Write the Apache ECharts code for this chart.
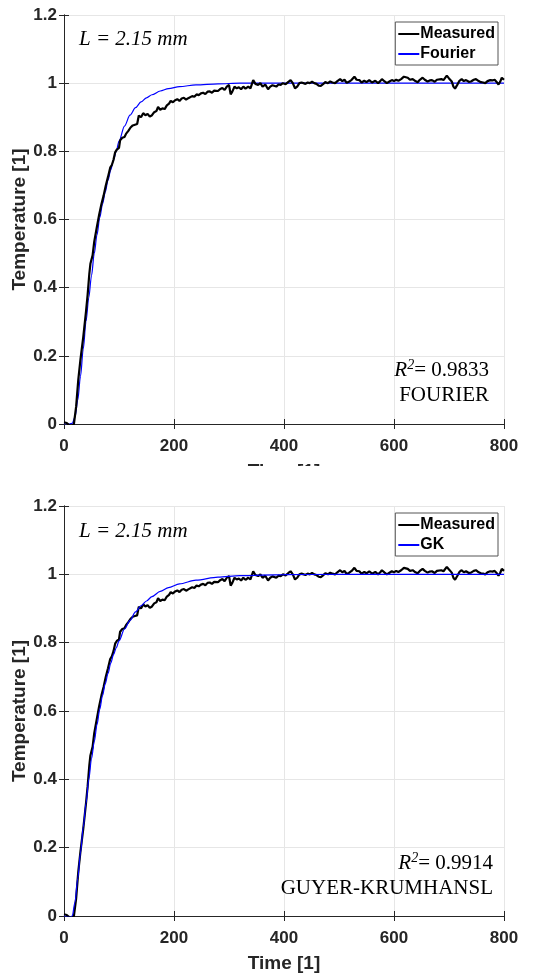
<!DOCTYPE html>
<html>
<head>
<meta charset="utf-8">
<title>Temperature fits</title>
<script src="https://cdn.jsdelivr.net/npm/echarts@6/dist/echarts.min.js"></script>
<style>
  html, body { margin: 0; padding: 0; background: #fff; }
  #main { width: 542px; height: 979px; }
</style>
</head>
<body>
<div id="main"></div>
<script>
// measured signal (same in both panels)
var timeMeasured = [0, 5, 10, 15, 18, 22, 26, 30, 35, 40, 43, 46, 48, 52, 55, 60, 64, 68, 72, 76, 80, 84, 87, 90, 93, 96, 100,
  102, 106, 110, 113, 117, 121, 125, 129, 133, 136, 140, 144, 148, 152, 156, 160, 164, 168, 171, 175, 179, 183, 187, 191, 194, 198,
  202, 206, 210, 214, 218, 222, 226, 229, 233, 237, 241, 245, 249, 253, 257, 261, 265, 269, 273, 276, 280, 284, 288, 292, 296, 300,
  303, 306, 310, 314, 318, 322, 326, 330, 335, 339, 344, 348, 353, 357, 361, 366, 371, 375, 379, 382, 386, 390, 394, 398,
  403, 408, 412, 416, 420, 424, 428, 432, 435, 439, 443, 447, 451, 455, 459, 463, 467, 471, 475, 480, 484, 488, 493, 497,
  502, 506, 510, 514, 518, 523, 528, 532, 537, 541, 546, 550, 555, 560, 566, 571, 575, 578, 583, 587, 591, 596,
  600, 604, 608, 613, 618, 621, 625, 629, 634, 639, 643, 647, 652, 656, 661, 665, 669, 674, 678, 681, 686, 690, 696,
  700, 705, 708, 711, 715, 719, 723, 727, 731, 736, 740, 745, 749, 754, 758, 762, 766, 770, 775, 779, 783, 787, 790, 793, 796, 800];
var tempMeasured = [0.005, 0.003, -0.004, -0.006, 0.0, 0.05, 0.13, 0.19, 0.255, 0.33, 0.38, 0.44, 0.47, 0.495, 0.535, 0.58, 0.615, 0.645, 0.67, 0.7, 0.725, 0.752, 0.76, 0.775, 0.797, 0.805, 0.81,
  0.832, 0.84, 0.842, 0.852, 0.86, 0.87, 0.876, 0.878, 0.88, 0.905, 0.9, 0.912, 0.906, 0.91, 0.902, 0.906, 0.915, 0.918, 0.93, 0.922, 0.926, 0.924, 0.935, 0.94, 0.948, 0.944,
  0.95, 0.953, 0.948, 0.955, 0.957, 0.952, 0.956, 0.954, 0.962, 0.96, 0.967, 0.965, 0.97, 0.972, 0.968, 0.975, 0.976, 0.972, 0.978, 0.981, 0.977, 0.983, 0.986, 0.98, 0.99, 0.995,
  0.967, 0.975, 0.99, 0.985, 0.988, 0.982, 0.99, 0.984, 0.99, 0.985, 1.009, 0.998, 0.995, 1.0, 0.99, 0.996, 0.982, 0.99, 0.994, 0.998, 0.99, 0.996, 0.995, 1.0,
  0.997, 1.004, 1.009, 1.0, 0.985, 0.99, 1.0, 1.002, 1.005, 0.998, 1.002, 1.0, 1.004, 1.0, 0.998, 0.993, 0.992, 0.997, 1.003, 1.0, 1.005, 1.002, 1.0, 1.006,
  1.012, 1.006, 1.01, 1.001, 1.004, 1.01, 1.019, 1.01, 1.009, 1.002, 1.007, 1.003, 1.009, 1.002, 1.007, 1.0, 1.006, 1.012, 1.005, 1.0, 1.004, 1.009,
  1.006, 1.01, 1.007, 1.012, 1.019, 1.014, 1.016, 1.01, 1.012, 1.006, 1.003, 1.01, 1.016, 1.01, 1.005, 1.008, 1.009, 1.004, 1.01, 1.014, 1.012, 1.009, 1.022,
  1.014, 1.005, 0.99, 0.984, 0.995, 1.007, 1.012, 1.006, 1.009, 1.004, 1.005, 1.01, 1.012, 1.006, 1.003, 1.002, 1.0, 1.006, 1.009, 1.008, 1.01, 1.003, 0.996, 1.004, 1.016, 1.01];

// model curves
var timeModel = [0, 10, 15, 20, 25, 30, 35, 40, 45, 50, 55, 60, 65, 70, 75, 80, 85, 90, 95, 100, 110, 120, 130, 140, 150,
  160, 175, 190, 210, 240, 280, 320, 400, 500, 600, 700, 800];
var tempFourier = [0, 0, 0.002, 0.02, 0.07, 0.14, 0.22, 0.3, 0.37, 0.435, 0.5, 0.555, 0.605, 0.645, 0.68, 0.715, 0.745, 0.775, 0.8, 0.83, 0.874, 0.906, 0.928, 0.945, 0.957,
  0.966, 0.977, 0.984, 0.99, 0.995, 0.998, 1.0, 1.0, 1.0, 1.0, 1.0, 1.0];
var tempGK = [0, -0.003, 0.0, 0.04, 0.11, 0.185, 0.26, 0.33, 0.4, 0.46, 0.51, 0.56, 0.605, 0.645, 0.68, 0.71, 0.74, 0.765, 0.785, 0.805, 0.84, 0.865, 0.89, 0.908, 0.922,
  0.935, 0.95, 0.961, 0.972, 0.983, 0.992, 0.996, 0.999, 1.0, 1.0, 1.0, 1.0];

var xTicks = [0, 200, 400, 600, 800];
var yTicks = [0, 0.2, 0.4, 0.6, 0.8, 1, 1.2];

var ink = '#262626';
var pairs = function (xs, ys) { return xs.map(function (x, i) { return [x, ys[i]]; }); };

var myChart = echarts.init(document.getElementById('main'));

function xAxisPair(grid) {
    return [{
        type: 'value', gridIndex: grid, min: xTicks[0], max: xTicks[xTicks.length - 1], interval: 200,
        name: 'Time [1]', nameLocation: 'middle', nameGap: 38, nameMoveOverlap: false,
        nameTextStyle: { color: ink, fontFamily: 'Liberation Sans', fontWeight: 'bold', fontSize: 19 },
        axisLine: { show: true, lineStyle: { color: ink, width: 1 } },
        axisTick: { show: true, inside: true, length: 5, lineStyle: { color: ink } },
        axisLabel: { color: ink, fontFamily: 'Liberation Sans', fontWeight: 'bold', fontSize: 17, margin: 14 },
        splitLine: { show: true, lineStyle: { color: '#e6e6e6', width: 1 } }
    }, {
        type: 'value', gridIndex: grid, position: 'top', min: 0, max: 800, interval: 200,
        axisLine: { show: true, lineStyle: { color: ink, width: 1 } },
        axisTick: { show: true, inside: true, length: 5, lineStyle: { color: ink } },
        axisLabel: { show: false }, splitLine: { show: false }
    }];
}
function yAxisPair(grid) {
    return [{
        type: 'value', gridIndex: grid, min: yTicks[0], max: yTicks[yTicks.length - 1], interval: 0.2,
        name: 'Temperature [1]', nameLocation: 'middle', nameGap: 35, nameMoveOverlap: false,
        nameTextStyle: { color: ink, fontFamily: 'Liberation Sans', fontWeight: 'bold', fontSize: 19 },
        axisLine: { show: true, lineStyle: { color: ink, width: 1 } },
        axisTick: { show: true, inside: true, length: 5, lineStyle: { color: ink } },
        axisLabel: { color: ink, fontFamily: 'Liberation Sans', fontWeight: 'bold', fontSize: 17, margin: 7 },
        splitLine: { show: true, lineStyle: { color: '#e6e6e6', width: 1 } }
    }, {
        type: 'value', gridIndex: grid, position: 'right', min: 0, max: 1.2, interval: 0.2,
        axisLine: { show: true, lineStyle: { color: ink, width: 1 } },
        axisTick: { show: true, inside: true, length: 5, lineStyle: { color: ink } },
        axisLabel: { show: false }, splitLine: { show: false }
    }];
}

function legendBox(top, names) {
    return {
        data: names.map(function (n) { return { name: n, icon: 'rect' }; }),
        orient: 'vertical', right: 44, top: top, itemGap: 2,
        itemWidth: 21, itemHeight: 2, padding: [3, 3, 2, 3],
        borderColor: '#555', borderWidth: 1, backgroundColor: '#fff',
        textStyle: { color: '#000', fontFamily: 'Liberation Sans', fontWeight: 'bold', fontSize: 16, padding: [0, 0, 0, -4], lineHeight: 18 }
    };
}

var serif = 'Liberation Serif';
function note(top, left, rTop, right, r2, model) {
    return [{
        type: 'text', left: left, top: top, z: 50,
        style: { text: 'L = 2.15 mm', fill: '#000', font: 'italic 21px "' + serif + '"' }
    }, {
        type: 'text', right: right, top: rTop, z: 50,
        style: {
            text: '{r|R}{s|2}{n|= ' + r2 + '}', align: 'right',
            rich: {
                r: { fill: '#000', fontFamily: serif, fontStyle: 'italic', fontSize: 21 },
                s: { fill: '#000', fontFamily: serif, fontStyle: 'italic', fontSize: 14, verticalAlign: 'top', padding: [0, 0, 10, 0] },
                n: { fill: '#000', fontFamily: serif, fontSize: 21 }
            }
        }
    }, {
        type: 'text', right: right, top: rTop + 27, z: 50,
        style: { text: model, fill: '#000', font: '21px "' + serif + '"' }
    }];
}

var option = {
    animation: false,
    backgroundColor: '#fff',
    grid: [
        { left: 64, top: 15, width: 440, height: 409, outerBoundsMode: 'none' },
        { left: 64, top: 506, width: 440, height: 410, outerBoundsMode: 'none' }
    ],
    xAxis: xAxisPair(0).concat(xAxisPair(1)),
    yAxis: yAxisPair(0).concat(yAxisPair(1)),
    legend: [legendBox(22, ['Measured', 'Fourier']), legendBox(513, ['Measured', 'GK'])],
    series: [
        {
            name: 'Measured', type: 'line', xAxisIndex: 0, yAxisIndex: 0, symbol: 'none', z: 3,
            data: pairs(timeMeasured, tempMeasured), lineStyle: { color: '#000', width: 2.2 }, itemStyle: { color: '#000' }
        },
        {
            name: 'Fourier', type: 'line', xAxisIndex: 0, yAxisIndex: 0, symbol: 'none', z: 2,
            smooth: 0.3, smoothMonotone: 'x',
            data: pairs(timeModel, tempFourier), lineStyle: { color: '#0000ff', width: 1.2 }, itemStyle: { color: '#0000ff' }
        },
        {
            name: 'Measured', type: 'line', xAxisIndex: 2, yAxisIndex: 2, symbol: 'none', z: 3,
            data: pairs(timeMeasured, tempMeasured), lineStyle: { color: '#000', width: 2.2 }, itemStyle: { color: '#000' }
        },
        {
            name: 'GK', type: 'line', xAxisIndex: 2, yAxisIndex: 2, symbol: 'none', z: 4,
            smooth: 0.3, smoothMonotone: 'x',
            data: pairs(timeModel, tempGK), lineStyle: { color: '#0000ff', width: 1.2 }, itemStyle: { color: '#0000ff' }
        }
    ],
    graphic: [
        // the lower panel hides most of the upper panel's x-axis title
        { type: 'rect', left: 0, top: 466, z: 100, shape: { width: 542, height: 30 }, style: { fill: '#fff' } }
    ].concat(note(29, 79, 358, 53, '0.9833', 'FOURIER'))
     .concat(note(521, 79, 851, 49, '0.9914', 'GUYER-KRUMHANSL'))
};

myChart.setOption(option);
</script>
</body>
</html>
